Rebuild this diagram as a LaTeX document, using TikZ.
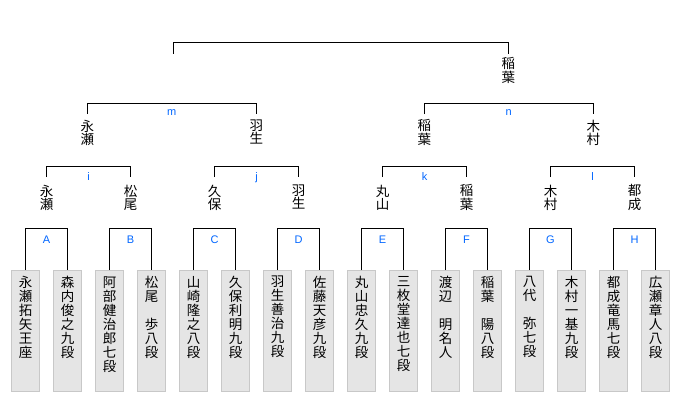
\documentclass[tikz,border=0pt]{standalone}
\usepackage{fontspec}
\newfontfamily\jp{Noto Sans CJK JP}
\newfontfamily\lab{Liberation Sans}
\definecolor{labblue}{RGB}{0,102,255}
\definecolor{boxfill}{RGB}{229,229,229}
\definecolor{boxline}{RGB}{200,200,200}
\tikzset{
  pbox/.style={draw=boxline, fill=boxfill, line width=1pt, minimum width=28pt, minimum height=121pt, inner sep=0pt, anchor=north},
  ptext/.style={font=\jp\fontsize{13.5}{14}\selectfont, align=center, anchor=north, inner sep=0pt},
  vname/.style={font=\jp\fontsize{13.5}{13.5}\selectfont, align=center, anchor=north, inner sep=0pt},
  mlabel/.style={text=labblue, font=\lab\fontsize{11}{12}\selectfont, anchor=base, inner sep=0pt},
  link/.style={line width=1.1pt, black}
}
\begin{document}
\begin{tikzpicture}[x=1pt,y=-1pt]
\useasboundingbox[fill=white] (0,0) rectangle (680,400);
% player boxes
\foreach \i/\t in {0/{永\\瀬\\拓\\矢\\王\\座},1/{森\\内\\俊\\之\\九\\段},2/{阿\\部\\健\\治\\郎\\七\\段},3/{松\\尾\\\phantom{歩}\\歩\\八\\段},
  4/{山\\崎\\隆\\之\\八\\段},5/{久\\保\\利\\明\\九\\段},6/{羽\\生\\善\\治\\九\\段},7/{佐\\藤\\天\\彦\\九\\段},
  8/{丸\\山\\忠\\久\\九\\段},9/{三\\枚\\堂\\達\\也\\七\\段},10/{渡\\辺\\\phantom{明}\\明\\名\\人},11/{稲\\葉\\\phantom{陽}\\陽\\八\\段},
  12/{八\\代\\\phantom{弥}\\弥\\七\\段},13/{木\\村\\一\\基\\九\\段},14/{都\\成\\竜\\馬\\七\\段},15/{広\\瀬\\章\\人\\八\\段}}{
  \node[pbox] (b\i) at ({25.5+42*\i},270) {};
  \node[ptext] (t\i) at ({25.5+42*\i},276) {\t};
}
% level coordinates
\coordinate (yA) at (0,228.5);
\coordinate (yB) at (0,166.3);
\coordinate (yC) at (0,103.3);
\coordinate (yD) at (0,42.3);
% first-round brackets
\foreach \p/\l in {0/A,1/B,2/C,3/D,4/E,5/F,6/G,7/H}{
  \pgfmathtruncatemacro{\ea}{2*\p}
  \pgfmathtruncatemacro{\eb}{2*\p+1}
  \draw[link] (b\ea.north) -- (b\ea.north |- yA) -- (b\eb.north |- yA) -- (b\eb.north);
  \node[mlabel] (l\l) at ({46.5+84*\p},243) {\l};
}
% second-round names
\foreach \p/\t in {0/{永\\瀬},1/{松\\尾},2/{久\\保},3/{羽\\生},4/{丸\\山},5/{稲\\葉},6/{木\\村},7/{都\\成}}{
  \node[vname] (v\p) at ({46.5+84*\p},184.5) {\t};
}
\foreach \p/\l in {0/i,1/j,2/k,3/l}{
  \pgfmathtruncatemacro{\ea}{2*\p}
  \pgfmathtruncatemacro{\eb}{2*\p+1}
  \draw[link, shorten <=7.5pt, shorten >=7.5pt] (v\ea.north) -- (v\ea.north |- yB) -- (v\eb.north |- yB) -- (v\eb.north);
  \node[mlabel] (l\l) at ({88.5+168*\p},180) {\l};
}
% third-round names
\node[vname] (w0) at (87.3,119.5) {永\\瀬};
\node[vname] (w1) at (256.3,119.5) {羽\\生};
\node[vname] (w2) at (424.3,119.5) {稲\\葉};
\node[vname] (w3) at (593.3,119.5) {木\\村};
\draw[link, shorten <=5.5pt, shorten >=5.5pt] (w0.north) -- (w0.north |- yC) -- (w1.north |- yC) -- (w1.north);
\draw[link, shorten <=5.5pt, shorten >=5.5pt] (w2.north) -- (w2.north |- yC) -- (w3.north |- yC) -- (w3.north);
\node[mlabel] (lm) at (171.8,115) {m};
\node[mlabel] (ln) at (508.8,115) {n};
% final
\node[vname] (win) at (508.3,57.5) {稲\\葉};
\coordinate (topL) at (173.3,53.5);
\draw[link, shorten >=4pt] (topL) -- (topL |- yD) -- (win.north |- yD) -- (win.north);
\end{tikzpicture}
\end{document}
